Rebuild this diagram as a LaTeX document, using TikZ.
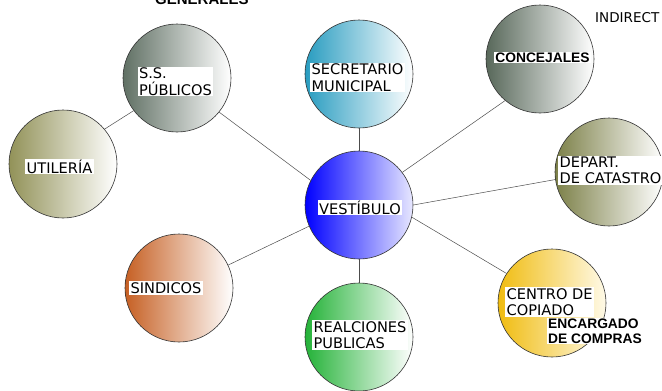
\documentclass[tikz,border=0pt]{standalone}
\usepackage{fontspec}
\setmainfont{DejaVu Sans}
\newfontfamily\arialf{Liberation Sans}
\begin{document}
\begin{tikzpicture}[x=1pt,y=-1pt,
  ball/.style={circle,draw=black!80,line width=0.6pt,minimum size=108pt,inner sep=0pt},
  lab/.style={fill=white,inner xsep=1.5pt,inner ysep=1pt,align=left,font=\fontsize{14.6}{16.5}\selectfont},
  blab/.style={fill=white,inner xsep=1pt,inner ysep=1pt,align=left,font=\arialf\bfseries\fontsize{13.8}{14.5}\selectfont},
  link/.style={draw=black!70,line width=0.5pt}]
\useasboundingbox (0,0) rectangle (662,391);
\definecolor{cSS}{RGB}{96,112,100}
\definecolor{cUT}{RGB}{146,146,88}
\definecolor{cSE}{RGB}{40,156,192}
\definecolor{cCO}{RGB}{88,104,90}
\definecolor{cVE}{RGB}{0,0,255}
\definecolor{cVEr}{RGB}{232,232,255}
\definecolor{cDE}{RGB}{124,128,72}
\definecolor{cCE}{RGB}{240,188,16}
\definecolor{cCEr}{RGB}{255,250,232}
\definecolor{cSI}{RGB}{198,96,36}
\definecolor{cRE}{RGB}{36,178,56}

% circles
\node[ball,left color=cSS,right color=white] (ss) at (177,78) {};
\node[ball,left color=cUT,right color=white] (ut) at (63,164) {};
\node[ball,left color=cSE,right color=white] (se) at (359,74) {};
\node[ball,left color=cCO,right color=white] (co) at (540,59) {};
\node[ball,left color=cVE,right color=cVEr] (ve) at (359,205) {};
\node[ball,left color=cDE,right color=white] (de) at (609,172) {};
\node[ball,left color=cCE,right color=cCEr] (ce) at (552,303) {};
\node[ball,left color=cSI,right color=white] (si) at (179,288) {};
\node[ball,left color=cRE,right color=white] (re) at (359,337) {};

% connectors
\draw[link] (ss.217) -- (ut.40);
\draw[link] (ss.-39) -- (ve.153);
\draw[link] (se.south) -- (ve.north);
\draw[link] (co.230) -- (ve.37);
\draw[link] (ve.0) -- (de.188);
\draw[link] (ve.-13) -- (ce.147);
\draw[link] (ve.south) -- (re.north);
\draw[link] (si.25) -- (ve.203);

% labels
\node[lab] (lss) at (175.5,81.5) {S.S.\\PÚBLICOS};
\node[lab] (lse) at (357.5,77.5) {SECRETARIO\\MUNICIPAL};
\node[lab] (lve) at (360,207.5) {VESTÍBULO};
\node[lab] (lut) at (59.5,166.5) {UTILERÍA};
\node[lab] (lsi) at (166,288) {SINDICOS};
\node[lab] (lre) at (360,335) {REALCIONES\\PUBLICAS};
\node[lab,anchor=west] (lde) at (558,170.5) {DEPART.\\DE CATASTRO};
\node[lab,anchor=north west] (lce) at (505,287) {CENTRO DE\\COPIADO};
\node[blab] (lco) at (542.5,57.5) {CONCEJALES};
\node[blab,anchor=north west] (len) at (547,318) {ENCARGADO\\DE COMPRAS};

% free texts
\node[anchor=base west,inner sep=0pt,font=\arialf\bfseries\fontsize{15}{15}\selectfont] (gen) at (155,4.5) {GENERALES};
\node[anchor=base west,inner sep=0pt,font=\fontsize{13.5}{13.5}\selectfont] (ind) at (595,22) {INDIRECT};
\end{tikzpicture}
\end{document}
